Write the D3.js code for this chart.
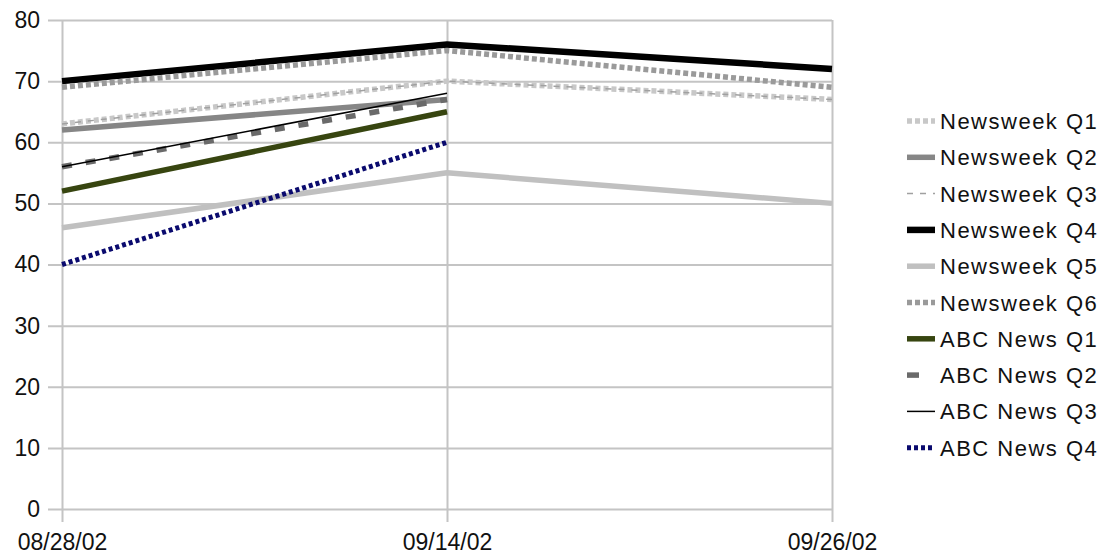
<!DOCTYPE html>
<html>
<head>
<meta charset="utf-8">
<script src="https://cdn.jsdelivr.net/npm/d3@7"></script>
<style>
  html, body { margin: 0; padding: 0; background: #fff; }
  svg { display: block; }
  text { font-family: "Liberation Sans", Arial, sans-serif; fill: #111; }
</style>
</head>
<body>
<svg id="chart" width="1102" height="554"></svg>
<script>
// ---- data ----
const categories = ["08/28/02", "09/14/02", "09/26/02"];
const yTicks = [0, 10, 20, 30, 40, 50, 60, 70, 80];
const seriesNames = [
  "Newsweek Q1", "Newsweek Q2", "Newsweek Q3", "Newsweek Q4", "Newsweek Q5",
  "Newsweek Q6", "ABC News Q1", "ABC News Q2", "ABC News Q3", "ABC News Q4"
];
const newsweekQ1 = [63, 70, 67];
const newsweekQ2 = [62, 67, null];
const newsweekQ3 = [63, 70, 67];
const newsweekQ4 = [70, 76, 72];
const newsweekQ5 = [46, 55, 50];
const newsweekQ6 = [69, 75, 69];
const abcQ1 = [52, 65, null];
const abcQ2 = [56, 67, null];
const abcQ3 = [56, 68, null];
const abcQ4 = [40, 60, null];
const seriesValues = [newsweekQ1, newsweekQ2, newsweekQ3, newsweekQ4, newsweekQ5,
                      newsweekQ6, abcQ1, abcQ2, abcQ3, abcQ4];

// ---- styles ----
const styles = [
  { color: "#c8c8c8", width: 5.5, dash: "5,3" },
  { color: "#868686", width: 5.5, dash: null },
  { color: "#a0a0a0", width: 1.5, dash: "6,7" },
  { color: "#000000", width: 6.5, dash: null },
  { color: "#c0c0c0", width: 5.5, dash: null },
  { color: "#9a9a9a", width: 5.5, dash: "5,3" },
  { color: "#374510", width: 5.5, dash: null },
  { color: "#6a6a6a", width: 5.5, dash: "10,14" },
  { color: "#000000", width: 1.5, dash: null },
  { color: "#0a0a6e", width: 5, dash: "4,3" }
];

const svg = d3.select("#chart");
const mLeft = 62, mRight = 832, mTop = 20, mBottom = 509;

const x = d3.scalePoint().domain(categories).range([mLeft, mRight]);
const y = d3.scaleLinear().domain([0, 80]).range([mBottom, mTop]);

// gridlines + y axis
const yAxis = svg.append("g")
  .attr("transform", `translate(${mLeft},0)`)
  .call(d3.axisLeft(y).tickValues(yTicks).tickSizeInner(-(mRight - mLeft)).tickSizeOuter(0).tickPadding(22))
  .call(g => g.select(".domain").remove());
yAxis.selectAll(".tick line")
  .attr("x1", -14).attr("x2", mRight - mLeft)
  .attr("stroke", "#c4c4c4").attr("stroke-width", 2);
yAxis.selectAll(".tick text")
  .attr("font-size", 23).attr("fill", "#111")
  .style("font-family", "'Liberation Sans', Arial, sans-serif");

// x axis
const xAxis = svg.append("g")
  .attr("transform", `translate(0,${mBottom})`)
  .call(d3.axisBottom(x).tickSizeInner(13).tickSizeOuter(0).tickPadding(12))
  .call(g => g.select(".domain").remove());
xAxis.selectAll(".tick line").attr("stroke", "#c4c4c4").attr("stroke-width", 2)
  .attr("y1", -(mBottom - mTop));
xAxis.selectAll(".tick text")
  .attr("font-size", 23).attr("fill", "#111")
  .style("font-family", "'Liberation Sans', Arial, sans-serif");

// lines
const line = d3.line()
  .defined(d => d.v !== null)
  .x(d => x(d.c))
  .y(d => y(d.v));

seriesNames.forEach((name, i) => {
  const pts = categories.map((c, j) => ({ c, v: seriesValues[i][j] }));
  const st = styles[i];
  svg.append("path")
    .datum(pts)
    .attr("d", line)
    .attr("fill", "none")
    .attr("stroke", st.color)
    .attr("stroke-width", st.width)
    .attr("stroke-dasharray", st.dash)
    .attr("stroke-linejoin", "round");
});

// legend
const legend = svg.append("g");
seriesNames.forEach((name, i) => {
  const cy = 121 + i * 36.3;
  const st = styles[i];
  legend.append("line")
    .attr("x1", 907).attr("x2", 935)
    .attr("y1", cy).attr("y2", cy)
    .attr("stroke", st.color)
    .attr("stroke-width", st.width)
    .attr("stroke-dasharray", i === 7 ? "12,20" : st.dash);
  legend.append("text")
    .attr("x", 940).attr("y", cy + 8)
    .attr("font-size", 22)
    .attr("letter-spacing", 1.5)
    .text(name);
});
</script>
</body>
</html>
